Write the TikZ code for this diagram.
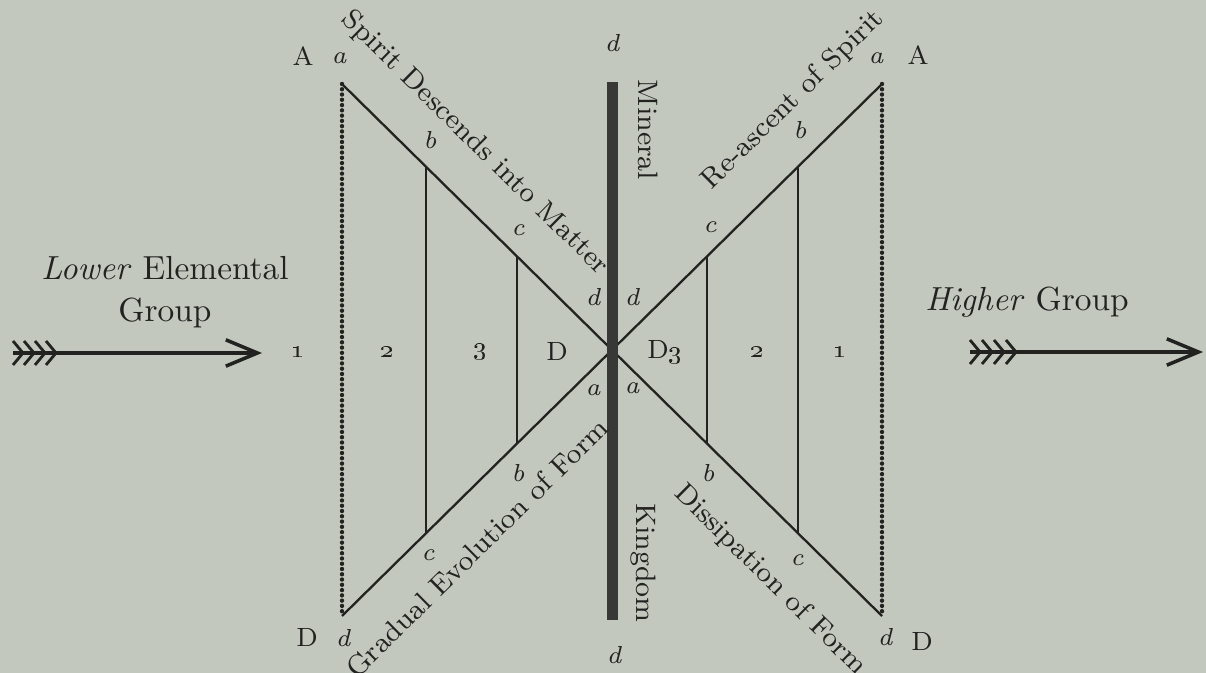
\documentclass[tikz,border=0pt]{standalone}
\usepackage{xcolor}
\usepackage{tikz}
\usetikzlibrary{calc}
\usetikzlibrary{arrows.meta}
\definecolor{paper}{RGB}{195,200,191}
\definecolor{ink}{RGB}{34,34,32}
\tikzset{
  diag/.style={ink, line width=.65pt},
  rung/.style={ink, line width=.5pt},
  dotline/.style={ink, line width=1.25pt, line cap=round, dash pattern=on 0pt off 1.5pt},
  letter/.style={ink, font=\fontsize{7}{8}\selectfont\itshape, inner sep=0},
  corner/.style={ink, font=\fontsize{7.5}{8}\selectfont, inner sep=0},
  region/.style={ink, font=\fontsize{7.5}{9}\selectfont, inner sep=0},
  slant/.style={ink, font=\fontsize{8}{9}\selectfont, inner sep=0},
  grouplabel/.style={ink, font=\fontsize{9.5}{12}\selectfont, align=center, inner sep=0},
  flight/.style={ink, line width=1pt, -{Straight Barb[length=9pt,width=7.5pt]}},
}

\begin{document}
\begin{tikzpicture}[x=.1mm, y=-.1mm]
\useasboundingbox (0,0) rectangle (1206,673);
\fill[paper] (0,0) rectangle (1206,673);

% the cross
\coordinate (O) at (612,350);
\coordinate (TL) at (342,84);
\coordinate (TR) at (882,84);
\coordinate (BL) at (342,616);
\coordinate (BR) at (882,616);
\draw[dotline] (TL)--(BL);
\draw[dotline] (TR)--(BR);
\draw[diag] (TL)--(BR);
\draw[diag] (BL)--(TR);
\foreach \t in {0.352,0.689} {
  \draw[rung] ($(O)!\t!(TL)$)--($(O)!\t!(BL)$);
  \draw[rung] ($(O)!\t!(TR)$)--($(O)!\t!(BR)$);
}
% mineral kingdom bar
\fill[ink!90] (607,82) rectangle (618,620);

% letters on the lines
\node[corner] (Atl) at (303,56) {A};
\node[letter] (atl) at (339,58) {a};
\node[letter] (btl) at (430,140) {b};
\node[letter] (ctl) at (518,230) {c};
\node[letter] (dtl) at (593,297) {d};
\node[letter] (dtop) at (612,43) {d};
\node[letter] (atr) at (876,58) {a};
\node[corner] (Atr) at (918,55) {A};
\node[letter] (btr) at (800,130) {b};
\node[letter] (ctr) at (710,227) {c};
\node[letter] (dtr) at (632,297) {d};
\node[letter] (abl) at (593,390) {a};
\node[letter] (bbl) at (518,473) {b};
\node[letter] (cbl) at (428,555) {c};
\node[letter] (dbl) at (343,638) {d};
\node[corner] (Dbl) at (307,638) {D};
\node[letter] (abr) at (632,388) {a};
\node[letter] (bbr) at (708,473) {b};
\node[letter] (cbr) at (797,560) {c};
\node[letter] (dbr) at (885,637) {d};
\node[corner] (Dbr) at (922,641) {D};
\node[letter] (dbot) at (614,655) {d};

% regions
\foreach \x/\t [count=\i] in {298/\oldstylenums{1}, 387/\oldstylenums{2}, 480/\oldstylenums{3},
    557/D, 665/D\oldstylenums{3}, 757/\oldstylenums{2}, 840/\oldstylenums{1}} {
  \node[region] (reg\i) at (\x,352) {\t};
}

% texts along the lines
\node[slant, rotate=-44.6] (descend) at (475,143) {Spirit Descends into Matter};
\node[slant, rotate=44.6] (reascent) at (793,100) {Re-ascent of Spirit};
\node[slant, rotate=44.6] (evolve) at (477,548) {Gradual Evolution of Form};
\node[slant, rotate=-44.6] (dissip) at (770,580) {Dissipation of Form};
\node[slant, rotate=-90] (mineral) at (648,130) {Mineral};
\node[slant, rotate=-90] (kingdom) at (643,563) {Kingdom};

% groups and arrows
\node[grouplabel] (lower) at (165,292) {\textit{Lower} Elemental\\Group};
\node[grouplabel] (higher) at (1027,302) {\textit{Higher} Group};
\coordinate (lowTail) at (13,353);
\coordinate (lowTip) at (262,353);
\coordinate (highTail) at (970,352);
\coordinate (highTip) at (1203,352);
\draw[flight] (lowTail)--(lowTip);
\draw[flight] (highTail)--(highTip);
\foreach \f in {0,...,3} {
  \draw[ink, line width=.8pt] ($(lowTail)+(\f*11,-12)$)--++(10,12)--++(-10,12);
  \draw[ink, line width=.8pt] ($(highTail)+(\f*12,-12)$)--++(10,12)--++(-10,12);
}
\end{tikzpicture}
\end{document}
